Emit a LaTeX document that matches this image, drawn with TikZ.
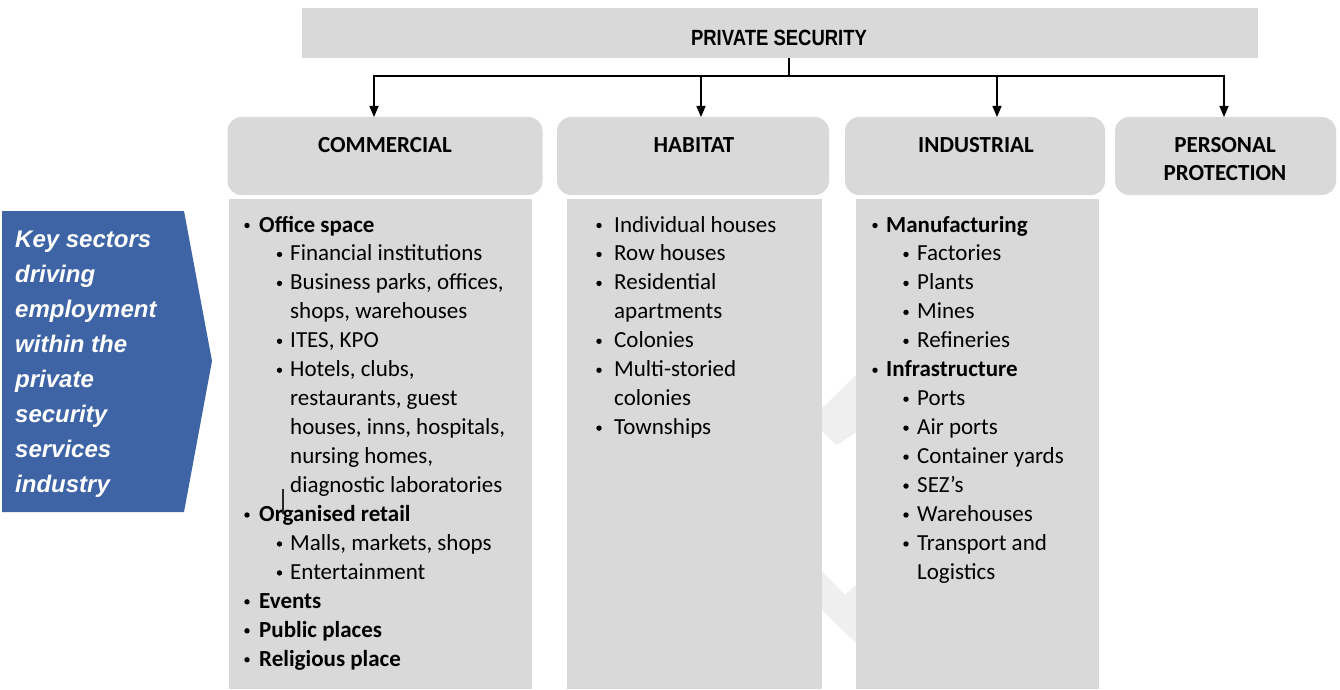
\documentclass[tikz,border=0pt]{standalone}
\usepackage{fontspec}
\setmainfont{Carlito}
\newfontfamily\arialfont{Liberation Sans}
\newfontfamily\narrowfont[FakeStretch=0.84]{Liberation Sans}
\usetikzlibrary{arrows.meta}

\definecolor{boxgray}{RGB}{217,217,217}
\definecolor{bandblue}{RGB}{62,100,166}
\definecolor{ghost}{RGB}{239,239,239}

\tikzset{
  hdrbox/.style={fill=boxgray, draw=none, rounded corners=14pt, inner sep=0pt},
  listbox/.style={fill=boxgray, draw=none, inner sep=0pt},
  hdrtext/.style={font=\fontsize{23}{27}\selectfont\bfseries, anchor=base, inner sep=0pt},
  itemtext/.style={font=\fontsize{23}{27}\selectfont, anchor=base west, inner sep=0pt},
  bulletdot/.style={circle, fill=black, draw=none, inner sep=0pt, minimum size=5.4pt},
  keytext/.style={font=\arialfont\fontsize{24}{35}\selectfont\bfseries\itshape,
    text=white, anchor=base west, inner sep=0pt},
  link/.style={line width=1.4pt, draw=black},
  tip/.style={-{Triangle[width=9pt,length=11pt]}}
}

% bulleted line: name, bullet centre x, text x, row, text
\newcommand\bitem[5]{%
  \node[bulletdot] (#1b) at (#2,{225.5+28.95*#4}) {};
  \node[itemtext] (#1) at (#3,{232+28.95*#4}) {#5};}
% continuation line: name, text x, row, text
\newcommand\citem[4]{%
  \node[itemtext] (#1) at (#2,{232+28.95*#3}) {#4};}

\begin{document}
\begin{tikzpicture}[x=1pt,y=-1pt]
\useasboundingbox (0,0) rectangle (1340,690);

% faint background chevrons between the columns
\fill[ghost] (815,415) -- (856,375) -- (863,375) -- (863,428) -- (836.7,445) -- (815,425) -- cycle;
\fill[ghost] (815,564) -- (845,595) -- (863,578) -- (863,650) -- (815,603) -- cycle;

% title bar
\node[listbox, minimum width=956pt, minimum height=50pt] (top) at (780,33) {};
\node[font=\narrowfont\fontsize{22}{26}\selectfont\bfseries, anchor=base, inner sep=0pt]
  (topT) at (779,45.5) {PRIVATE SECURITY};

% sector headers
\node[hdrbox, minimum width=315pt, minimum height=78pt] (comH) at (385,156) {};
\node[hdrbox, minimum width=272pt, minimum height=78pt] (habH) at (693,156) {};
\node[hdrbox, minimum width=260pt, minimum height=78pt] (indH) at (975,156) {};
\node[hdrbox, minimum width=221pt, minimum height=78pt] (perH) at (1225.5,156) {};
\node[hdrtext] (comT) at (385,152.7) {COMMERCIAL};
\node[hdrtext] (habT) at (694,152.7) {HABITAT};
\node[hdrtext] (indT) at (976,152.7) {INDUSTRIAL};
\node[hdrtext] (perT1) at (1225,152.7) {PERSONAL};
\node[hdrtext] (perT2) at (1225,180) {PROTECTION};

% list panels
\node[listbox, minimum width=303.5pt, minimum height=490.5pt] (comB) at (380.25,443.75) {};
\node[listbox, minimum width=255pt, minimum height=490.5pt] (habB) at (694.5,443.75) {};
\node[listbox, minimum width=243pt, minimum height=490.5pt] (indB) at (977.5,443.75) {};

% connectors from the title bar
\coordinate (split) at (789,76);
\coordinate (aCom) at (374,117);
\coordinate (aHab) at (701,117);
\coordinate (aInd) at (997,117);
\coordinate (aPer) at (1224,117);
\draw[link] (top.south -| split) -- (split);
\draw[link, tip] (split) -| (aCom);
\draw[link, tip] (split) -| (aHab);
\draw[link, tip] (split) -| (aInd);
\draw[link, tip] (split) -| (aPer);

% side banner
\fill[bandblue] (2,211) -- (184,211) -- (212,361) -- (184,512) -- (2,512) -- cycle;
\foreach \t [count=\i from 0] in {Key sectors, driving, employment, within the,
    private, security, services, industry}
  \node[keytext] (key\i) at (15,{247+35*\i}) {\t};

% commercial list
\bitem{c0}{247}{259}{0}{\bfseries Office space}
\bitem{c1}{279.5}{290}{1}{Financial institutions}
\bitem{c2}{279.5}{290}{2}{Business parks, offices,}
\citem{c3}{290}{3}{shops, warehouses}
\bitem{c4}{279.5}{290}{4}{ITES, KPO}
\bitem{c5}{279.5}{290}{5}{Hotels, clubs,}
\citem{c6}{290}{6}{restaurants, guest}
\citem{c7}{290}{7}{houses, inns, hospitals,}
\citem{c8}{290}{8}{nursing homes,}
\citem{c9}{290}{9}{diagnostic laboratories}
\bitem{c10}{247}{259}{10}{\bfseries Organised retail}
\bitem{c11}{279.5}{290}{11}{Malls, markets, shops}
\bitem{c12}{279.5}{290}{12}{Entertainment}
\bitem{c13}{247}{259}{13}{\bfseries Events}
\bitem{c14}{247}{259}{14}{\bfseries Public places}
\bitem{c15}{247}{259}{15}{\bfseries Religious place}
% stray text cursor mark
\draw[line width=1.3pt, black!85] (283,489) -- (283,514);

% habitat list
\bitem{h0}{599}{614}{0}{Individual houses}
\bitem{h1}{599}{614}{1}{Row houses}
\bitem{h2}{599}{614}{2}{Residential}
\citem{h3}{614}{3}{apartments}
\bitem{h4}{599}{614}{4}{Colonies}
\bitem{h5}{599}{614}{5}{Multi-storied}
\citem{h6}{614}{6}{colonies}
\bitem{h7}{599}{614}{7}{Townships}

% industrial list
\bitem{i0}{875}{886}{0}{\bfseries Manufacturing}
\bitem{i1}{906}{917}{1}{Factories}
\bitem{i2}{906}{917}{2}{Plants}
\bitem{i3}{906}{917}{3}{Mines}
\bitem{i4}{906}{917}{4}{Refineries}
\bitem{i5}{875}{886}{5}{\bfseries Infrastructure}
\bitem{i6}{906}{917}{6}{Ports}
\bitem{i7}{906}{917}{7}{Air ports}
\bitem{i8}{906}{917}{8}{Container yards}
\bitem{i9}{906}{917}{9}{SEZ’s}
\bitem{i10}{906}{917}{10}{Warehouses}
\bitem{i11}{906}{917}{11}{Transport and}
\citem{i12}{917}{12}{Logistics}
\end{tikzpicture}
\end{document}
